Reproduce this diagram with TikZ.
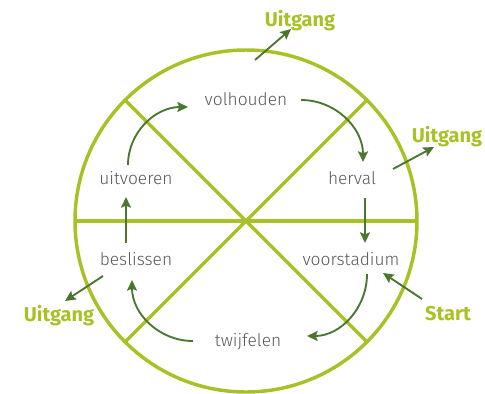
\documentclass[tikz,border=0pt]{standalone}
\usepackage{fontspec}
\setmainfont{Fira Sans}
\newfontfamily\lightfont{Fira Sans Light}
\usetikzlibrary{arrows.meta,calc}
\definecolor{rimgreen}{RGB}{169,193,38}
\definecolor{arrowgreen}{RGB}{74,118,46}
\definecolor{labelgray}{RGB}{88,88,88}
\tikzset{
  stage/.style={anchor=base,inner sep=0pt,text=labelgray,font=\lightfont\fontsize{13}{15}\selectfont},
  exitlabel/.style={anchor=base,inner sep=0pt,text=rimgreen,font=\bfseries\fontsize{15}{18}\selectfont},
  flow/.style={arrowgreen,line width=1.4pt,-{Stealth[length=8pt,width=7.5pt,inset=1.5pt]}},
  rim/.style={rimgreen,line width=2.6pt}
}
\begin{document}
\begin{tikzpicture}[x=0.75pt,y=-0.75pt]
\useasboundingbox (0,0) rectangle (485,393);
\coordinate (centre) at (246,221);
\path (centre) +(-171,0)    coordinate (w)
               +(171,0)     coordinate (e)
               +(-121,-121) coordinate (nw)
               +(121,-121)  coordinate (ne)
               +(-121,121)  coordinate (sw)
               +(121,121)   coordinate (se)
;
\draw[rim] (centre) circle (128.25pt);
\draw[rim] (w) -- (e);
\draw[rim] (nw) -- (se);
\draw[rim] (ne) -- (sw);

\node[stage] at (246,105) (volhouden)   {volhouden};
\node[stage] at (352,184) (herval)      {herval};
\node[stage] at (351,265) (voorstadium) {voorstadium};
\node[stage] at (248,346) (twijfelen)   {twijfelen};
\node[stage] at (136,265) (beslissen)   {beslissen};
\node[stage] at (136,184) (uitvoeren)   {uitvoeren};

\node[exitlabel] at (300,26)  (uitgangtop)   {Uitgang};
\node[exitlabel] at (447,142) (uitgangright) {Uitgang};
\node[exitlabel] at (59,321)  (uitgangleft)  {Uitgang};
\node[exitlabel] at (448,320) (start)        {Start};

\coordinate (leavetop)   at (255,60);
\coordinate (leaveright) at (393,169);

\draw[flow] ($(uitvoeren.base)+(-8,-19)$) to[out=90,in=180] ($(volhouden.base)+(-58,2)$);
\draw[flow] ($(volhouden.base)+(55,-5)$) to[out=0,in=90] ($(herval.base)+(11,-22)$);
\draw[flow] ($(herval.base)+(13,14)$) -- ($(voorstadium.base)+(14,-22)$);
\draw[flow] ($(voorstadium.base)+(16,9)$) to[out=-90,in=0] ($(twijfelen.base)+(59,-10)$);
\draw[flow] ($(twijfelen.base)+(-55,-5)$) to[out=180,in=-90] ($(beslissen.base)+(-4,15)$);
\draw[flow] ($(beslissen.base)+(-10,-22)$) -- ($(uitvoeren.base)+(-10,13)$);

\draw[flow] (leavetop) -- ($(uitgangtop.base)+(-9,3)$);
\draw[flow] (leaveright) -- ($(uitgangright.base)+(-13,5)$);
\draw[flow] ($(beslissen.base)+(-33,11)$) -- ($(uitgangleft.base)+(6,-20)$);
\draw[flow] ($(start.base)+(-26,-21)$) -- ($(voorstadium.base)+(32,8)$);

\end{tikzpicture}
\end{document}
